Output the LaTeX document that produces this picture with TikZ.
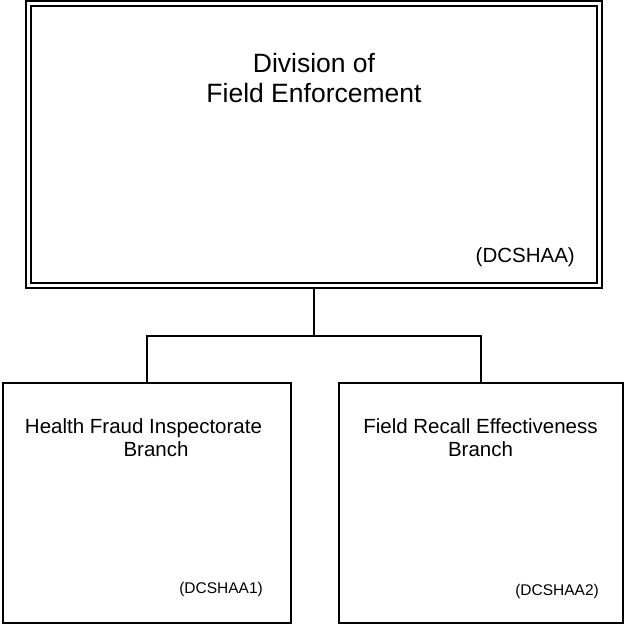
\documentclass[tikz,border=0pt]{standalone}
\usepackage{fontspec}
\setmainfont{Liberation Sans}
\begin{document}
\begin{tikzpicture}[x=1pt,y=-1pt,
  divbox/.style={draw, line width=2pt, double, double distance=3pt, inner sep=0pt, outer sep=3.5pt},
  childbox/.style={draw, line width=2pt, inner sep=0pt, minimum width=#1, minimum height=239.2pt},
  conn/.style={line width=2pt},
  titletext/.style={font=\fontsize{26.5}{30}\selectfont, align=center, inner sep=0pt},
  childtext/.style={font=\fontsize{20.5}{23}\selectfont, align=center, inner sep=0pt},
  codetext/.style={inner sep=0pt, anchor=base east},
]
\useasboundingbox (0,0) rectangle (625,624);

\node[divbox, minimum width=571pt, minimum height=282pt] (div) at (314,144.5) {};
\node[childbox=287.8pt] (hfib) at (146.6,502.9) {};
\node[childbox=284.6pt] (frcb) at (481,502.9) {};

\coordinate (bus) at (314,336);
\draw[conn] (div.south) -- (bus);
\draw[conn] (hfib.north) |- (bus) -| (frcb.north);

\node[titletext, anchor=base] (title) at (314,102) {Division of\\Field Enforcement};
\node[codetext, font=\fontsize{20.5}{24}\selectfont] (divcode) at (575,262) {(DCSHAA)};

\node[childtext, anchor=base] (hfibtext) at (147,456) {Health Fraud Inspectorate\hspace*{7pt}\\\hspace*{18pt}Branch};
\node[childtext, anchor=base] (frcbtext) at (480.5,456) {Field Recall Effectiveness\\Branch};

\node[codetext, font=\fontsize{15.5}{18}\selectfont] (hfibcode) at (263,593) {(DCSHAA1)};
\node[codetext, font=\fontsize{15.5}{18}\selectfont] (frcbcode) at (599,595) {(DCSHAA2)};
\end{tikzpicture}
\end{document}
